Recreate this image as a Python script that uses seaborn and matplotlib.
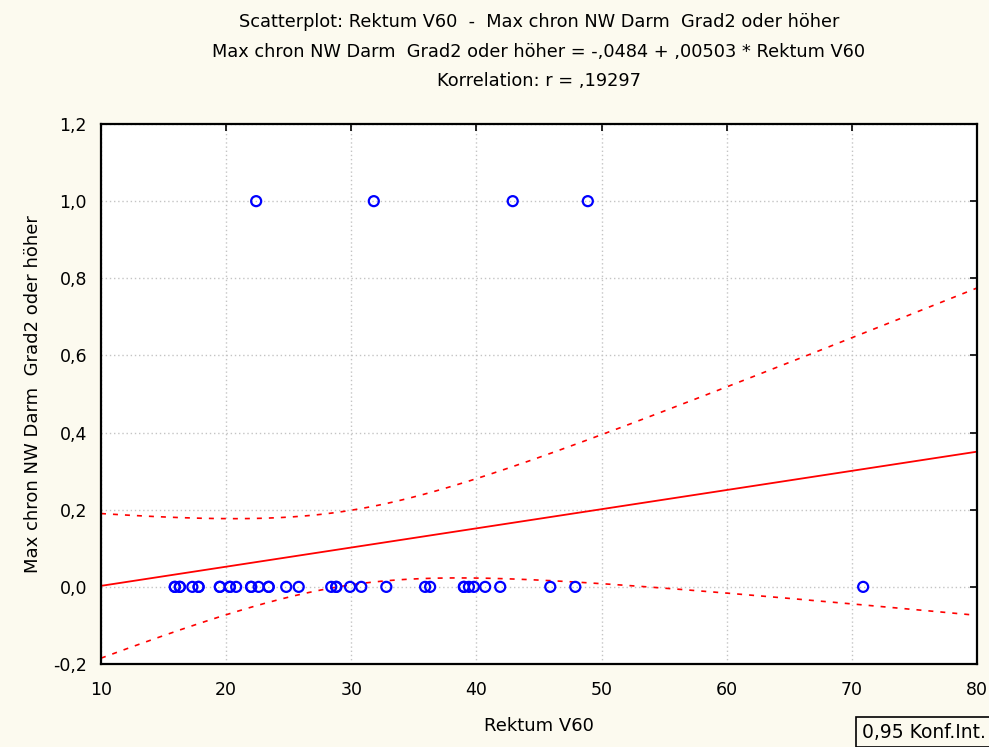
"""Scatterplot Rektum V60 vs. Max chron NW Darm Grad2 with linear fit and 0,95 band."""

import matplotlib
matplotlib.use("Agg")
import matplotlib.pyplot as plt
from matplotlib.ticker import FuncFormatter
import numpy as np
import pandas as pd
import seaborn as sns

# Rektum V60 of patients without (0) and with (1) Grad2+ toxicity
rektum_v60_grade0 = [15.9, 15.9, 16.3, 16.3, 17.3, 17.8, 17.8, 19.5, 19.5, 20.3, 20.3,
                     20.8, 22.0, 22.0, 22.6, 23.4, 23.4, 24.8, 25.8, 28.4, 28.8, 28.8,
                     29.9, 30.8, 32.8, 35.9, 36.3, 39.0, 39.0, 39.4, 39.8, 40.7, 41.9,
                     45.9, 47.9, 70.9]
rektum_v60_grade2 = [22.4, 31.8, 42.9, 48.9]
x_ticks = [10, 20, 30, 40, 50, 60, 70, 80]
y_ticks = [-0.2, 0.0, 0.2, 0.4, 0.6, 0.8, 1.0, 1.2]
title_lines = [
    "Scatterplot: Rektum V60  -  Max chron NW Darm  Grad2 oder höher",
    "Max chron NW Darm  Grad2 oder höher = -,0484 + ,00503 * Rektum V60",
    "Korrelation: r = ,19297",
]
T_975 = 2.024  # t quantile, df = n - 2 = 38

BG = "#fcfaef"
RED = "#ff0000"
BLUE = "#0000ff"

df = pd.DataFrame({
    "x": rektum_v60_grade0 + rektum_v60_grade2,
    "y": [0.0] * len(rektum_v60_grade0) + [1.0] * len(rektum_v60_grade2),
})

# least squares fit and confidence band of the mean
n = len(df)
xm, ym = df.x.mean(), df.y.mean()
sxx = ((df.x - xm) ** 2).sum()
slope = ((df.x - xm) * (df.y - ym)).sum() / sxx
icpt = ym - slope * xm
resid = df.y - (icpt + slope * df.x)
s = np.sqrt((resid ** 2).sum() / (n - 2))
gx = np.linspace(x_ticks[0], x_ticks[-1], 300)
fit = icpt + slope * gx
half = T_975 * s * np.sqrt(1 / n + (gx - xm) ** 2 / sxx)
band = pd.DataFrame({"x": gx, "fit": fit, "lo": fit - half, "hi": fit + half})

sns.set_style("white")
plt.rcParams.update({"text.color": "black", "axes.labelcolor": "black"})
fig = plt.figure(figsize=(9.89, 7.47), dpi=100, facecolor=BG)
ax = fig.add_axes([0.1021, 0.1111, 0.8858, 0.7229])
ax.set_facecolor("white")
ax.set_axisbelow(True)
ax.grid(True, color="#c4c4c4", linestyle=(0, (1, 2)), linewidth=1.0)

sns.lineplot(data=band, x="x", y="fit", color=RED, linewidth=1.3, ax=ax, sort=False)
for col in ("lo", "hi"):
    sns.lineplot(data=band, x="x", y=col, color=RED, linewidth=1.2,
                 linestyle=(0, (3, 4.2)), ax=ax, sort=False)
sns.scatterplot(data=df, x="x", y="y", marker="o", s=52, facecolor="none",
                edgecolor=BLUE, linewidth=1.6, ax=ax, zorder=3)

ax.set_xlim(x_ticks[0], x_ticks[-1])
ax.set_ylim(y_ticks[0], y_ticks[-1])
ax.set_xticks(x_ticks)
ax.set_yticks(y_ticks)
ax.yaxis.set_major_formatter(FuncFormatter(lambda v, _: f"{v:.1f}".replace(".", ",").replace("−", "-")))
ax.tick_params(direction="in", length=5, width=1.2, labelsize=12.5, colors="black",
               top=True, right=True)
ax.tick_params(axis="x", pad=12)
ax.tick_params(axis="y", pad=10)
for sp in ax.spines.values():
    sp.set_color("black"); sp.set_linewidth(1.6)

ax.set_xlabel("Rektum V60", fontsize=13, labelpad=13)
ax.set_ylabel("Max chron NW Darm  Grad2 oder höher", fontsize=13, labelpad=8)

for ypx, line in zip((22, 52, 81), title_lines):
    fig.text(0.545, 1 - ypx / 747, line, ha="center", va="center", fontsize=12.8)

fig.text(862 / 989, 1 - 732 / 747, "0,95 Konf.Int.", fontsize=13.5, va="center",
         bbox=dict(boxstyle="square,pad=0.3", fc=BG, ec="black", lw=1.2))

fig.savefig("out.png", dpi=100, facecolor=BG)
